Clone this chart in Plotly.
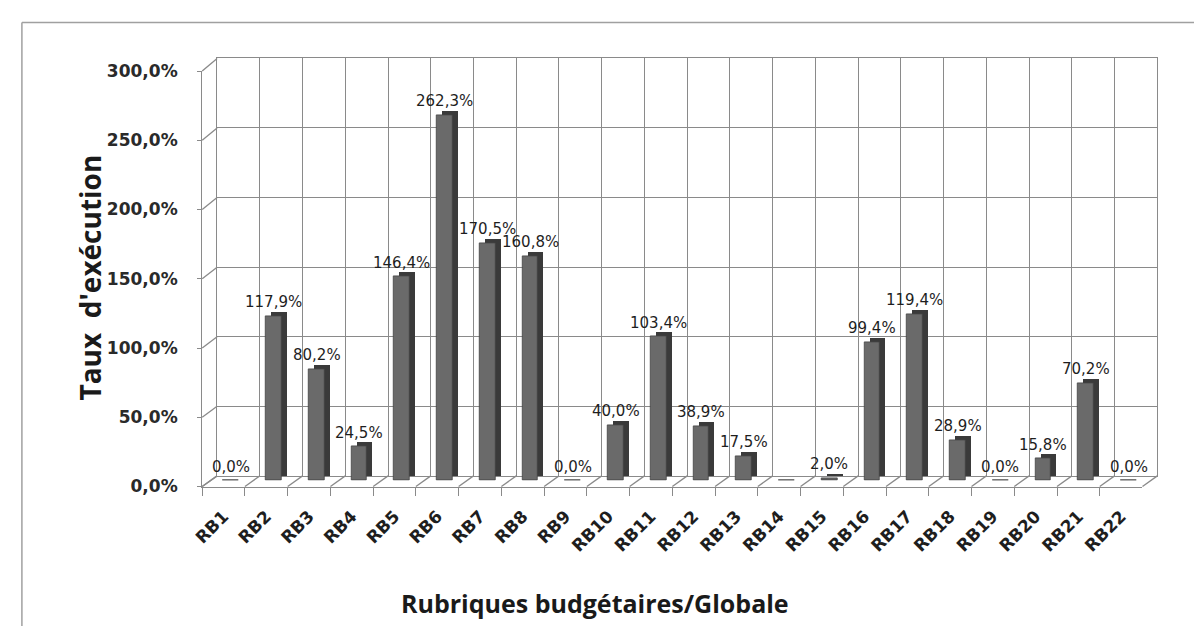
import plotly.graph_objects as go

# ---------------- data ----------------
categories = ["RB1", "RB2", "RB3", "RB4", "RB5", "RB6", "RB7", "RB8", "RB9", "RB10", "RB11",
              "RB12", "RB13", "RB14", "RB15", "RB16", "RB17", "RB18", "RB19", "RB20", "RB21", "RB22"]
values = [0.0, 117.9, 80.2, 24.5, 146.4, 262.3, 170.5, 160.8, 0.0, 40.0, 103.4,
          38.9, 17.5, 0.0, 2.0, 99.4, 119.4, 28.9, 0.0, 15.8, 70.2, 0.0]
hidden_labels = ["RB14"]
y_ticks = [0, 50, 100, 150, 200, 250, 300]
y_title = "Taux  d'exécution"
x_title = "Rubriques budgétaires/Globale"

def pct(v):
    return f"{v:.1f}".replace(".", ",") + "%"

labels = ["" if c in hidden_labels else pct(v) for c, v in zip(categories, values)]
y_ticktext = [pct(t) for t in y_ticks]

# ---------------- geometry helpers ----------------
W, H = 1194, 636
def fx(p):
    return p / W
def fy(p):
    return 1 - p / H

N = len(categories)
DX, DY = 15, 11  # 3D depth offset (back wall relative to front)
FX0, FX1, FY0, FY1 = 193, 1142, 492, 63          # front frame
BX0, BX1, BY0, BY1 = FX0 + DX, FX1 + DX, FY0 - DY, 50  # back wall
MX0, MX1, MY0, MY1 = 200.5, 1149.5, 486, 54      # bars (mid depth)
SDX, SDY = 5, 4  # bar side/top depth

GRID = "#8a8a8a"
FONT = "DejaVu Sans"

fig = go.Figure()

fig.add_trace(go.Scatter(x=[0], y=[0], xaxis="x", yaxis="y", mode="markers",
                         marker=dict(opacity=0), hoverinfo="skip", showlegend=False))
fig.add_trace(go.Scatter(x=categories, y=[0] * N, xaxis="x2", yaxis="y2", mode="markers",
                         marker=dict(opacity=0), hoverinfo="skip", showlegend=False))
# bar side/top faces
fig.add_trace(go.Bar(x=categories, y=values, xaxis="x3", yaxis="y3", width=0.37,
                     marker=dict(color="#3a3a3a", line=dict(width=0)),
                     hoverinfo="skip", showlegend=False))
# bar front faces
fig.add_trace(go.Bar(x=categories, y=values, xaxis="x4", yaxis="y4", width=0.37,
                     marker=dict(color="#6a6a6a", line=dict(color="#444444", width=0.8)),
                     showlegend=False))

rng_cat = [-0.5, N - 0.5]
rng_y = [0, 300]

layout = dict(
    width=W, height=H, margin=dict(l=0, r=0, t=0, b=0),
    paper_bgcolor="white", plot_bgcolor="rgba(0,0,0,0)",
    bargap=0,
    xaxis=dict(domain=[fx(BX0), fx(BX1)], range=[0, N], dtick=1, tick0=0,
               showgrid=True, gridcolor=GRID, gridwidth=1.3, showticklabels=False,
               zeroline=False, showline=True, mirror=True, linecolor=GRID, linewidth=1.3,
               ticks="", layer="below traces", anchor="y", fixedrange=True),
    yaxis=dict(domain=[fy(BY0), fy(BY1)], range=rng_y, tickvals=y_ticks,
               showgrid=True, gridcolor=GRID, gridwidth=1.3, showticklabels=False,
               zeroline=False, showline=True, mirror=True, linecolor=GRID, linewidth=1.3,
               ticks="", layer="below traces", anchor="x", fixedrange=True),
    xaxis2=dict(domain=[fx(FX0), fx(FX1)], type="category", categoryorder="array",
                categoryarray=categories, range=rng_cat, tickson="boundaries",
                ticks="outside", ticklen=8, tickcolor=GRID, tickwidth=1.3,
                showline=True, linecolor=GRID, linewidth=1.3, showgrid=False,
                zeroline=False, tickangle=-45, ticklabelstandoff=12,
                tickfont=dict(family=FONT, size=17, color="#1e1e1e", weight="bold"),
                anchor="y2", fixedrange=True),
    yaxis2=dict(domain=[fy(FY0), fy(FY1)], range=rng_y, tickvals=y_ticks,
                ticktext=y_ticktext, ticks="outside", ticklen=4,
                tickcolor=GRID, tickwidth=1.3, showline=True, linecolor=GRID,
                linewidth=1.3, showgrid=False, zeroline=False, ticklabelstandoff=16,
                tickfont=dict(family=FONT, size=17, color="#2a2a2a", weight="bold"),
                anchor="x2", fixedrange=True),
    xaxis3=dict(domain=[fx(MX0 + SDX), fx(MX1 + SDX)], type="category",
                categoryorder="array", categoryarray=categories, range=rng_cat,
                visible=False, anchor="y3", fixedrange=True),
    yaxis3=dict(domain=[fy(MY0 - SDY), fy(MY1 - SDY)], range=rng_y, visible=False,
                anchor="x3", fixedrange=True),
    xaxis4=dict(domain=[fx(MX0), fx(MX1)], type="category", categoryorder="array",
                categoryarray=categories, range=rng_cat, visible=False,
                anchor="y4", fixedrange=True),
    yaxis4=dict(domain=[fy(MY0), fy(MY1)], range=rng_y, visible=False,
                anchor="x4", fixedrange=True),
)

shapes = []
line_style = dict(color=GRID, width=1.3)
for t in y_ticks:
    yf = FY0 + (FY1 - FY0) * t / 300
    yb = BY0 + (BY1 - BY0) * t / 300
    shapes.append(dict(type="line", xref="paper", yref="paper", x0=fx(FX0), y0=fy(yf),
                       x1=fx(BX0), y1=fy(yb), line=line_style, layer="below"))
step_f = (FX1 - FX0) / N
step_b = (BX1 - BX0) / N
for k in range(N + 1):
    shapes.append(dict(type="line", xref="paper", yref="paper",
                       x0=fx(FX0 + k * step_f), y0=fy(FY0),
                       x1=fx(BX0 + k * step_b), y1=fy(BY0), line=line_style, layer="below"))
# outer chart frame: only top and left edges are visible in the picture
frame_style = dict(color="#a0a0a0", width=1.5)
shapes.append(dict(type="line", xref="paper", yref="paper", x0=fx(11), y0=fy(13),
                   x1=fx(W), y1=fy(13), line=frame_style, layer="below"))
shapes.append(dict(type="line", xref="paper", yref="paper", x0=fx(11), y0=fy(13),
                   x1=fx(11), y1=fy(H), line=frame_style, layer="below"))
layout["shapes"] = shapes

annotations = [
    dict(text=y_title, xref="paper", yref="paper", x=fx(80), y=fy(276), showarrow=False,
         textangle=-90, xanchor="center", yanchor="middle",
         font=dict(family="Open Sans", size=28, color="#1a1a1a", weight="bold")),
    dict(text=x_title, xref="paper", yref="paper", x=fx(589), y=fy(612), showarrow=False,
         xanchor="center", yanchor="middle",
         font=dict(family="Open Sans", size=25, color="#1a1a1a", weight="bold")),
]
# data labels above each bar
for c, v, lab in zip(categories, values, labels):
    if lab:
        annotations.append(dict(text=lab, x=c, y=v, xref="x4", yref="y4", showarrow=False,
                                xanchor="center", yanchor="bottom", yshift=3,
                                font=dict(family=FONT, size=15, color="#1e1e1e")))
layout["annotations"] = annotations

fig.update_layout(**layout)
fig.write_html("out.html")
